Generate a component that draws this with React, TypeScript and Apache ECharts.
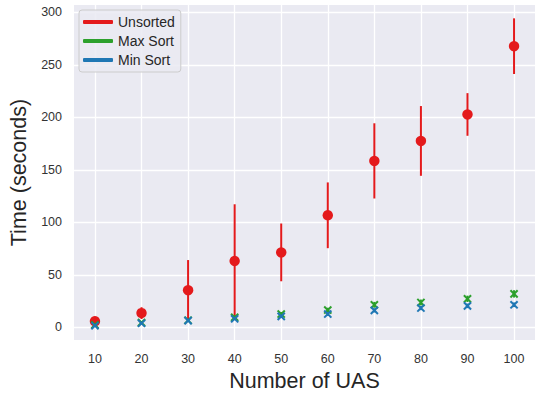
import React, { useEffect, useRef } from "react";
import * as echarts from "echarts";

const categories = [10, 20, 30, 40, 50, 60, 70, 80, 90, 100];
const yTicks = [0, 50, 100, 150, 200, 250, 300];

const unsortedMean = [5.9, 13.7, 35.5, 63.3, 71.5, 106.8, 158.6, 177.6, 202.8, 267.8];
const unsortedErr = [1.2, 5.6, 28.7, 54.0, 27.5, 31.3, 35.8, 33.2, 20.3, 26.5];

const maxSortMean = [2.5, 4.6, 6.9, 9.7, 12.8, 16.6, 21.6, 23.8, 27.3, 32.0];
const maxSortErr = [0.8, 1.0, 1.3, 1.8, 2.0, 2.2, 2.8, 2.8, 3.0, 3.5];

const minSortMean = [1.7, 4.0, 6.5, 8.3, 10.6, 12.8, 16.3, 18.5, 20.6, 21.6];
const minSortErr = [0.6, 0.8, 1.0, 1.3, 1.5, 1.8, 2.0, 2.0, 2.2, 2.2];

const RED = "#e41a1c";
const GREEN = "#2ca02c";
const BLUE = "#1f77b4";
const FONT = "Liberation Sans, Arial, sans-serif";

function makeSeries(name: string, means: number[], errs: number[], color: string, marker: "circle" | "x") {
  return {
    name,
    type: "custom",
    itemStyle: { color },
    clip: true,
    data: categories.map((c, i) => [c, means[i], errs[i]]),
    renderItem: (params: any, api: any) => {
      const x = api.value(0);
      const y = api.value(1);
      const e = api.value(2);
      const p = api.coord([x, y]);
      const top = api.coord([x, y + e]);
      const bot = api.coord([x, y - e]);
      const children: any[] = [
        {
          type: "line",
          shape: { x1: top[0], y1: top[1], x2: bot[0], y2: bot[1] },
          style: { stroke: color, lineWidth: 2 },
        },
      ];
      if (marker === "circle") {
        children.push({
          type: "circle",
          shape: { cx: p[0], cy: p[1], r: 5.2 },
          style: { fill: color },
        });
      } else {
        const s = 3.6;
        children.push({
          type: "line",
          shape: { x1: p[0] - s, y1: p[1] - s, x2: p[0] + s, y2: p[1] + s },
          style: { stroke: color, lineWidth: 2 },
        });
        children.push({
          type: "line",
          shape: { x1: p[0] - s, y1: p[1] + s, x2: p[0] + s, y2: p[1] - s },
          style: { stroke: color, lineWidth: 2 },
        });
      }
      return { type: "group", children };
    },
  };
}

export default function App() {
  const ref = useRef<HTMLDivElement>(null);
  useEffect(() => {
    if (!ref.current) return;
    const chart = echarts.init(ref.current, null, { renderer: "svg" });
    chart.setOption({
      animation: false,
      backgroundColor: "#ffffff",
      textStyle: { fontFamily: FONT },
      grid: {
        left: 74,
        top: 5,
        right: -7,
        bottom: 55,
        show: true,
        backgroundColor: "#eaeaf2",
        borderWidth: 0,
      },
      legend: {
        orient: "vertical",
        left: 79,
        top: 10,
        data: [
          { name: "Unsorted", icon: "roundRect" },
          { name: "Max Sort", icon: "roundRect" },
          { name: "Min Sort", icon: "roundRect" },
        ],
        itemWidth: 30,
        itemHeight: 4,
        itemGap: 3,
        padding: [4, 6, 4, 4],
        backgroundColor: "rgba(234,234,242,0.85)",
        borderColor: "#cccccc",
        borderWidth: 1,
        borderRadius: 3,
        textStyle: { fontSize: 14, color: "#262626", fontFamily: FONT, lineHeight: 16 },
      },
      xAxis: {
        type: "value",
        min: 5.5,
        max: 104.5,
        name: "Number of UAS",
        nameLocation: "middle",
        nameGap: 28,
        nameTextStyle: { fontSize: 21.5, color: "#262626", fontFamily: FONT },
        axisLine: { show: false },
        axisTick: { show: false, customValues: categories },
        axisLabel: { customValues: categories, fontSize: 12.5, color: "#333333", margin: 12, fontFamily: FONT },
        splitLine: { show: true, lineStyle: { color: "#ffffff", width: 1.3 } },
      },
      yAxis: {
        type: "value",
        min: -12,
        max: 307,
        name: "Time (seconds)",
        nameLocation: "middle",
        nameGap: 44,
        nameTextStyle: { fontSize: 21.5, color: "#262626", fontFamily: FONT },
        axisLine: { show: false },
        axisTick: { show: false, customValues: yTicks },
        axisLabel: { customValues: yTicks, fontSize: 12.5, color: "#333333", margin: 12, fontFamily: FONT },
        splitLine: { show: true, lineStyle: { color: "#ffffff", width: 1.3 } },
      },
      series: [
        makeSeries("Unsorted", unsortedMean, unsortedErr, RED, "circle"),
        makeSeries("Max Sort", maxSortMean, maxSortErr, GREEN, "x"),
        makeSeries("Min Sort", minSortMean, minSortErr, BLUE, "x"),
      ],
    });
    return () => chart.dispose();
  }, []);
  return <div ref={ref} style={{ position: "absolute", left: 0, top: 0, width: 535, height: 397 }} />;
}
